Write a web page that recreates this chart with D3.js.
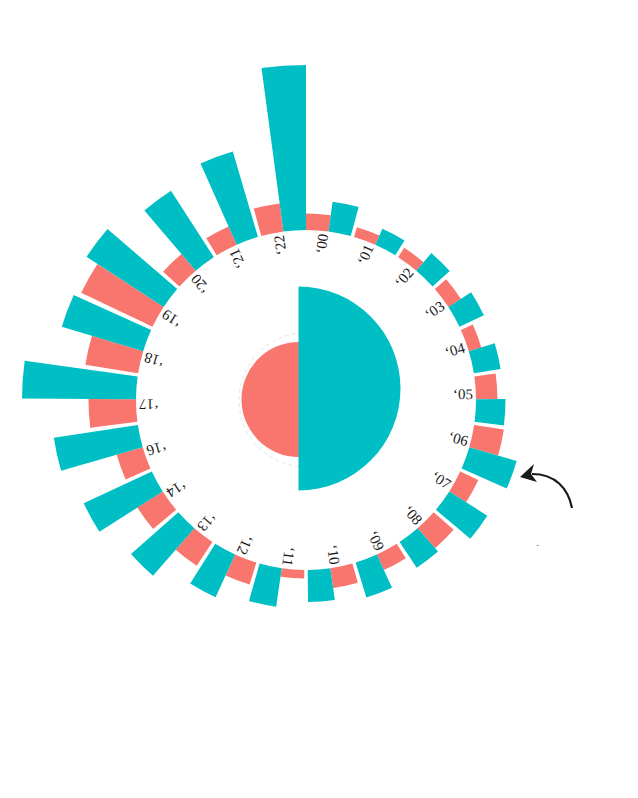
<!DOCTYPE html>
<html><head><meta charset="utf-8">
<script src="https://cdn.jsdelivr.net/npm/d3@7"></script>
<style>body{margin:0;background:#fff}svg{display:block}</style>
</head><body><svg id="chart" width="638" height="798"></svg>
<script>
const years = ["‘00","‘01","‘02","‘03","‘04","‘05","‘06","‘07","‘08","‘09","‘10","‘11","‘12","‘13","‘14","‘16","‘17","‘18","‘19","‘20","‘21","‘22"];
const seriesA = [10.0,6.1,6.7,9.1,7.9,13.0,18.2,12.1,16.1,10.3,12.1,5.2,13.9,17.3,18.2,16.4,28.8,32.4,47.9,13.3,12.1,17.2];
const seriesB = [18.2,10.6,14.0,16.4,16.4,17.9,29.9,27.3,18.8,22.1,19.4,23.6,28.5,38.2,45.5,51.5,69.1,51.5,55.8,47.9,53.9,100];
const seriesKeys = ["A","B"];
const centerValues = [31.8, 100];
const colors = ["#F8766D","#00BFC4"];

const svg = d3.select("#chart");
const cx = 306, cy = 400, innerR = 170, outerMax = 335;

const x = d3.scaleBand().domain(years).range([0, 2*Math.PI]).paddingInner(0.07).paddingOuter(0);
const xSub = d3.scaleBand().domain(seriesKeys).range([0, x.bandwidth()]).padding(0);
const y = d3.scaleLinear().domain([0, 100]).range([innerR, outerMax]);
const color = d3.scaleOrdinal().domain(seriesKeys).range(colors);
const rC = d3.scaleSqrt().domain([0, 100]).range([0, 102]);
const arc = d3.arc();

// center
svg.append("circle").attr("cx", cx).attr("cy", cy).attr("r", 67)
  .attr("fill", "none").attr("stroke", "#e6e6e6").attr("stroke-width", 1).attr("stroke-dasharray", "4,3");
svg.append("path")
  .attr("transform", "translate(299,399.5)")
  .attr("fill", colors[0])
  .attr("d", arc({innerRadius: 0, outerRadius: rC(centerValues[0]), startAngle: Math.PI, endAngle: 2*Math.PI}));
svg.append("path")
  .attr("transform", "translate(298.5,388.5)")
  .attr("fill", colors[1])
  .attr("d", arc({innerRadius: 0, outerRadius: rC(centerValues[1]), startAngle: 0, endAngle: Math.PI}));

const g = svg.append("g").attr("transform", `translate(${cx},${cy})`);
const rows = years.map((yr, i) => ({year: yr, A: seriesA[i], B: seriesB[i]}));

const groups = g.selectAll("g.yr").data(rows).join("g").attr("class", "yr");
groups.selectAll("path").data(d => seriesKeys.map(k => ({year: d.year, key: k, value: d[k]})))
  .join("path")
  .attr("fill", d => color(d.key))
  .attr("d", d => {
    const s = x(d.year) + xSub(d.key);
    return arc({innerRadius: innerR, outerRadius: y(d.value), startAngle: s, endAngle: s + xSub.bandwidth()});
  });

g.selectAll("text.lbl").data(years).join("text")
  .attr("class", "lbl")
  .attr("transform", d => {
    const a = (x(d) + x.bandwidth()/2) * 180 / Math.PI;
    return `rotate(${a - 90}) translate(${innerR - 3},0)`;
  })
  .attr("text-anchor", "end")
  .attr("font-family", "'Liberation Serif', 'DejaVu Serif', serif")
  .attr("font-size", 15)
  .attr("fill", "#1a1a1a")
  .text(d => d);

// annotation arrow
svg.append("path")
  .attr("d", "M572,508 C568,488 555,474 532,474")
  .attr("fill", "none").attr("stroke", "#1a1a1a").attr("stroke-width", 2.2);
svg.append("path")
  .attr("d", "M520,477 L534,464 L531,474 L537,482 Z")
  .attr("fill", "#1a1a1a");
svg.append("text").attr("x", 536.5).attr("y", 546)
  .attr("font-size", 10).attr("fill", "#333").attr("font-family", "'Liberation Serif', serif").text(".");
</script>
</body></html>
